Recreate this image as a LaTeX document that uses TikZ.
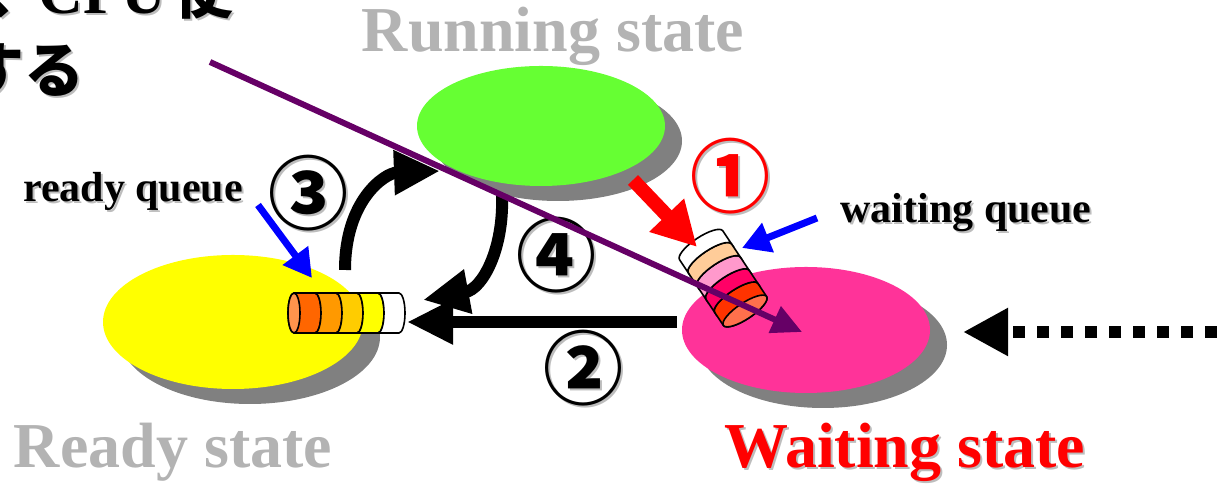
\documentclass[tikz,border=0pt]{standalone}
\usepackage{fontspec}
\setmainfont{Liberation Serif}
\newfontfamily\jp{Noto Sans CJK JP}
\usetikzlibrary{shapes.geometric,shadows,arrows.meta}
\definecolor{runG}{HTML}{66FF33}
\definecolor{readyY}{HTML}{FFFF00}
\definecolor{waitP}{HTML}{FF3399}
\definecolor{shad}{HTML}{808080}
\definecolor{lbl}{HTML}{B3B3B3}
\definecolor{txtsh}{HTML}{BDBDBD}
\definecolor{purp}{HTML}{660066}
\definecolor{rqa}{HTML}{FF6600}\definecolor{rqb}{HTML}{FF9900}\definecolor{rqc}{HTML}{FFCC00}
\definecolor{wqa}{HTML}{FF3300}\definecolor{wqb}{HTML}{FF0066}\definecolor{wqc}{HTML}{FF99CC}
\definecolor{wqd}{HTML}{FFCC99}
% text with a small grey shadow
\newcommand\sh[1]{\leavevmode\rlap{\kern1pt\raisebox{-1pt}{\color{txtsh}#1}}#1}
% queue drawn as a cylinder: position, angle, segment length, radius, cap radius, colours
\newcommand\queue[6]{%
\begin{scope}[shift={#1},rotate=#2,line width=.8pt]
\foreach \c [count=\i from 0] in {#6}{
\ifnum\i=0
\filldraw[fill=\c] (0,#4) -- (#3,#4) arc[start angle=90,end angle=-90,x radius=#5*.5pt,y radius=#4*.5pt]
 -- (0,-#4) arc[start angle=-90,end angle=-270,x radius=#5*.5pt,y radius=#4*.5pt] -- cycle;
\filldraw[fill=\c!70!white] (0,0) ellipse[x radius=#5*.5pt,y radius=#4*.5pt];
\else
\filldraw[fill=\c] ({\i*#3},#4) -- ({(\i+1)*#3},#4) arc[start angle=90,end angle=-90,x radius=#5*.5pt,y radius=#4*.5pt]
 -- ({\i*#3},-#4) arc[start angle=-90,end angle=90,x radius=#5*.5pt,y radius=#4*.5pt] -- cycle;
\fi}
\end{scope}}
\begin{document}
\begin{tikzpicture}[x=.5pt,y=.5pt,
 st/.style={ellipse,inner sep=0pt,drop shadow={shadow xshift=8.5pt,shadow yshift=-7.5pt,fill=shad,opacity=1}},
 slabel/.style={font=\fontsize{32}{36}\selectfont\bfseries,inner sep=0pt,anchor=base},
 qlabel/.style={font=\fontsize{21}{24}\selectfont\bfseries,inner sep=0pt,anchor=base},
 num/.style={font=\jp\bfseries\fontsize{40}{44}\selectfont,inner sep=0pt},
 jtext/.style={font=\jp\bfseries\fontsize{30}{34}\selectfont,inner sep=0pt,anchor=base west},
 fat/.style={line width=6pt,-{Triangle[length=23pt,width=21pt]}},
 pointer/.style={blue,line width=3.5pt,-{Triangle[length=14pt,width=15pt]}}]
\useasboundingbox (0,0) rectangle (1225,485);
\clip (0,0) rectangle (1225,485);
\node[jtext] (jl1) at (-14,471) {\sh{、}\kern-4pt{\rmfamily\fontsize{31}{34}\selectfont\sh{CPU}}\kern4pt\sh{使}};
\node[jtext] (jl2) at (-36,392) {\sh{する}};
\node[st,fill=runG,minimum width=124pt,minimum height=60pt] (running) at (541,359) {};
\node[st,fill=readyY,minimum width=130pt,minimum height=67pt] (ready) at (233,163) {};
\node[st,fill=waitP,minimum width=124pt,minimum height=63pt] (waiting) at (806,155) {};
\node[slabel,text=lbl] (runlbl) at (553,433) {Running state};
\node[slabel,text=lbl] (readylbl) at (173,17) {Ready state};
\node[slabel,text=red] (waitlbl) at (905,17) {\sh{Waiting state}};
\node[qlabel] (rqlbl) at (133,283) {\sh{ready queue}};
\node[qlabel] (wqlbl) at (966,262) {\sh{waiting queue}};
\queue{(294,172)}{0}{21}{20}{6}{rqa,rqb,rqc,readyY,white}
\queue{(745,174)}{123.7}{15.8}{26}{8}{wqa,wqb,wqc,wqd,white}
\node[num,text=red] (n1) at (730,308) {\sh{①}};
\node[num] (n3) at (308,291) {\sh{③}};
\node[num] (n4) at (556,229) {\sh{④}};
\node[num] (n2) at (583,116) {\sh{②}};
\coordinate (rqout) at (345,215);\coordinate (runin) at (440,314);
\coordinate (runout) at (502,290);\coordinate (rqback) at (423,185);
\coordinate (waitout) at (677,163);\coordinate (rqin) at (407,163);
\coordinate (runbot) at (633,305);\coordinate (wqin) at (697,238);
\coordinate (wqptr) at (817,267);\coordinate (wqtip) at (742,237);
\coordinate (rqptr) at (258,280);\coordinate (rqtip) at (312,207);
\coordinate (ext) at (1241,153);\coordinate (extin) at (963,153);
\coordinate (cpu) at (210,423);\coordinate (cpuend) at (802,153);
\draw[fat] (rqout) .. controls (345,285) and (385,312) .. (runin);
\draw[fat] (runout) .. controls (504,235) and (482,196) .. (rqback);
\draw[fat] (waitout) -- (rqin);
\draw[red,line width=7pt,-{Triangle[length=22pt,width=22.5pt]}] (runbot) -- (wqin);
\draw[pointer] (wqptr) -- (wqtip);
\draw[pointer] (rqptr) -- (rqtip);
\draw[line width=6pt,dash pattern=on 6pt off 6pt,-{Triangle[length=22.5pt,width=22.5pt]}] (ext) -- (extin);
\draw[purp,line width=3pt,-{Triangle[length=15pt,width=14pt]}] (cpu) -- (cpuend);
\end{tikzpicture}
\end{document}
